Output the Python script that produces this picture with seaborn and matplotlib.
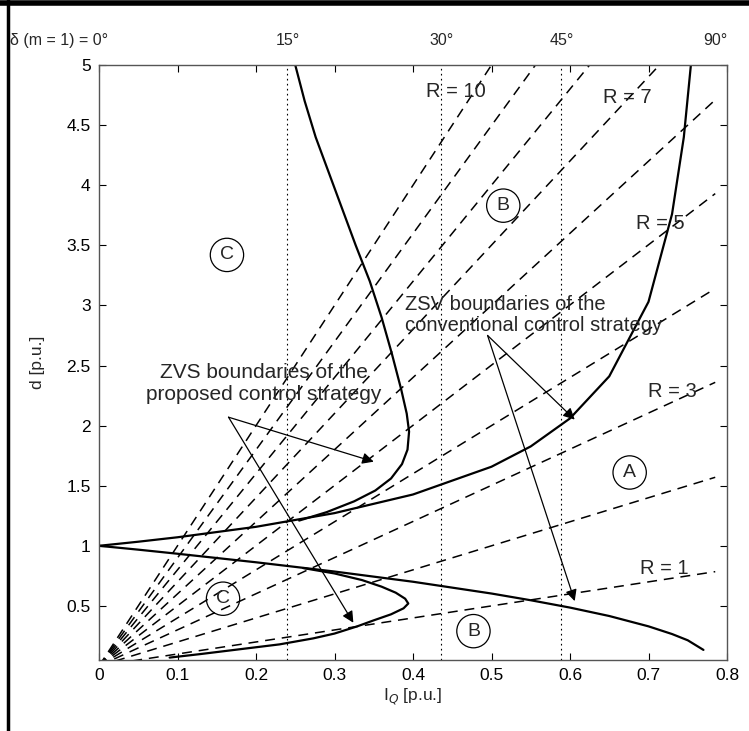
import numpy as np
import pandas as pd
import matplotlib
matplotlib.use("Agg")
import matplotlib.pyplot as plt
from matplotlib.lines import Line2D
import seaborn as sns

# --- load lines d = R * I (end points) ---
r_values = [1, 2, 3, 4, 5, 6, 7, 8, 9, 10]
r_end_i = [0.785, 0.785, 0.785, 0.785, 0.785, 0.785, 0.714, 0.625, 0.556, 0.50]
r_end_d = [0.785, 1.57, 2.36, 3.14, 3.93, 4.71, 5.0, 5.0, 5.0, 5.0]

# --- conventional ZVS boundaries ---
conv_up_i = [0.0, 0.05, 0.1, 0.2, 0.3, 0.4, 0.5, 0.55, 0.6, 0.65, 0.7, 0.73, 0.745, 0.754]
conv_up_d = [1.0, 1.034, 1.071, 1.158, 1.272, 1.427, 1.658, 1.827, 2.06, 2.41, 3.03, 3.76, 4.4, 5.0]
conv_lo_i = [0.0, 0.05, 0.1, 0.2, 0.3, 0.4, 0.5, 0.55, 0.6, 0.65, 0.7, 0.73, 0.75, 0.77]
conv_lo_d = [1.0, 0.968, 0.934, 0.863, 0.786, 0.701, 0.603, 0.547, 0.486, 0.416, 0.330, 0.266, 0.214, 0.134]

# --- proposed ZVS boundaries ---
prop_up_i = [0.255, 0.29, 0.325, 0.352, 0.372, 0.386, 0.393, 0.395, 0.392, 0.385, 0.373,
             0.36, 0.345, 0.327, 0.31, 0.293, 0.276, 0.262, 0.25]
prop_up_d = [1.21, 1.28, 1.37, 1.46, 1.56, 1.68, 1.8, 1.95, 2.1, 2.3, 2.6,
             2.9, 3.2, 3.5, 3.8, 4.1, 4.4, 4.7, 5.0]
prop_lo_i = [0.26, 0.30, 0.335, 0.36, 0.378, 0.39, 0.394, 0.388, 0.372, 0.35,
             0.329, 0.30, 0.273, 0.23, 0.18, 0.13, 0.09]
prop_lo_d = [0.815, 0.77, 0.715, 0.66, 0.61, 0.56, 0.52, 0.48, 0.43, 0.38,
             0.33, 0.27, 0.23, 0.18, 0.14, 0.10, 0.07]

# --- phase shift angle marks on top ---
delta_labels = ["\u03b4 (m = 1) = 0\u00b0", "15\u00b0", "30\u00b0", "45\u00b0", "90\u00b0"]
delta_i = [0.0, 0.24, 0.436, 0.589, 0.785]

xticks = [0, 0.1, 0.2, 0.3, 0.4, 0.5, 0.6, 0.7, 0.8]
yticks = [0.5, 1, 1.5, 2, 2.5, 3, 3.5, 4, 4.5, 5]

sns.set_theme(style="ticks")
plt.rcParams['font.family'] = ['Liberation Sans', 'DejaVu Sans']

fig = plt.figure(figsize=(7.49, 7.31), dpi=100)
ax = fig.add_axes([99 / 749, 1 - 660 / 731, 628 / 749, 595 / 731])

# dashed load lines
for r, xe, ye in zip(r_values, r_end_i, r_end_d):
    df = pd.DataFrame({'I': [0.0, xe], 'd': [0.0, ye]})
    sns.lineplot(data=df, x='I', y='d', ax=ax, color='black', lw=1.1,
                 linestyle=(0, (6.5, 4.5)), estimator=None, sort=False)

# dotted delta lines
for xv in delta_i[1:4]:
    ax.axvline(xv, color='black', lw=0.8, ls=(0, (1.5, 3)))

curves = [(conv_up_i, conv_up_d), (conv_lo_i, conv_lo_d),
          (prop_up_i, prop_up_d), (prop_lo_i, prop_lo_d)]
for xs, ys in curves:
    df = pd.DataFrame({'I': xs, 'd': ys})
    sns.lineplot(data=df, x='I', y='d', ax=ax, color='black', lw=1.6,
                 estimator=None, sort=False)

ax.set_xlim(0, 0.8)
ax.set_ylim(0.05, 5)
ax.set_xticks(xticks)
ax.set_xticklabels(['0' if t == 0 else f'{t:.1f}' for t in xticks])
ax.set_yticks(yticks)
ax.set_yticklabels([f'{t:g}' for t in yticks])
ax.tick_params(direction='in', top=True, right=True, length=5, width=0.8,
               labelsize=12.5, pad=6, colors='black')
for s in ax.spines.values():
    s.set_color('#555555')
    s.set_linewidth(1.0)
ax.set_xlabel('I$_Q$ [p.u.]', fontsize=12.5, labelpad=2)
ax.set_ylabel('d [p.u.]', fontsize=12.5, labelpad=15)

# top angle labels
for lab, xv in zip(delta_labels, delta_i):
    ha = 'right' if xv == 0 else 'center'
    xx = 0.012 if xv == 0 else xv
    ax.text(xx, 1.042, lab, transform=ax.get_xaxis_transform(), ha=ha,
            va='center', fontsize=11.5)

# R labels
txt = dict(fontsize=14.5, ha='center', va='center')
ax.text(0.455, 4.78, 'R = 10', **txt)
ax.text(0.673, 4.73, 'R = 7', **txt)
ax.text(0.715, 3.68, 'R = 5', **txt)
ax.text(0.73, 2.28, 'R = 3', **txt)
ax.text(0.72, 0.81, 'R = 1', **txt)

# region letters in circles
circ = dict(fontsize=14, ha='center', va='center',
            bbox=dict(boxstyle='circle,pad=0.42', fc='none', ec='black', lw=0.9))
for lab, xv, yv in [('A', 0.676, 1.61), ('B', 0.477, 0.29), ('B', 0.515, 3.83),
                    ('C', 0.163, 3.42), ('C', 0.158, 0.56)]:
    ax.text(xv, yv, lab, **circ)

# annotations with arrows
ax.text(0.21, 2.35, 'ZVS boundaries of the\nproposed control strategy',
        fontsize=15, ha='center', va='center', linespacing=1.15)
ax.text(0.39, 2.92, 'ZSV boundaries of the\nconventional control strategy',
        fontsize=14.5, ha='left', va='center', linespacing=1.15)
arrow = dict(arrowstyle='-|>', color='black', lw=0.9, mutation_scale=17,
             shrinkA=0, shrinkB=0)
ax.annotate('', xy=(0.35, 1.70), xytext=(0.165, 2.07), arrowprops=arrow)
ax.annotate('', xy=(0.324, 0.36), xytext=(0.165, 2.07), arrowprops=arrow)
ax.annotate('', xy=(0.606, 2.05), xytext=(0.495, 2.75), arrowprops=arrow)
ax.annotate('', xy=(0.606, 0.54), xytext=(0.495, 2.75), arrowprops=arrow)

# scan border (black edges top and left)
fig.add_artist(Line2D([0, 1], [1 - 3 / 731, 1 - 3 / 731], color='black', lw=4,
                      transform=fig.transFigure))
fig.add_artist(Line2D([8 / 749, 8 / 749], [0, 1], color='black', lw=2.5,
                      transform=fig.transFigure))

fig.savefig('out.png', dpi=100)
